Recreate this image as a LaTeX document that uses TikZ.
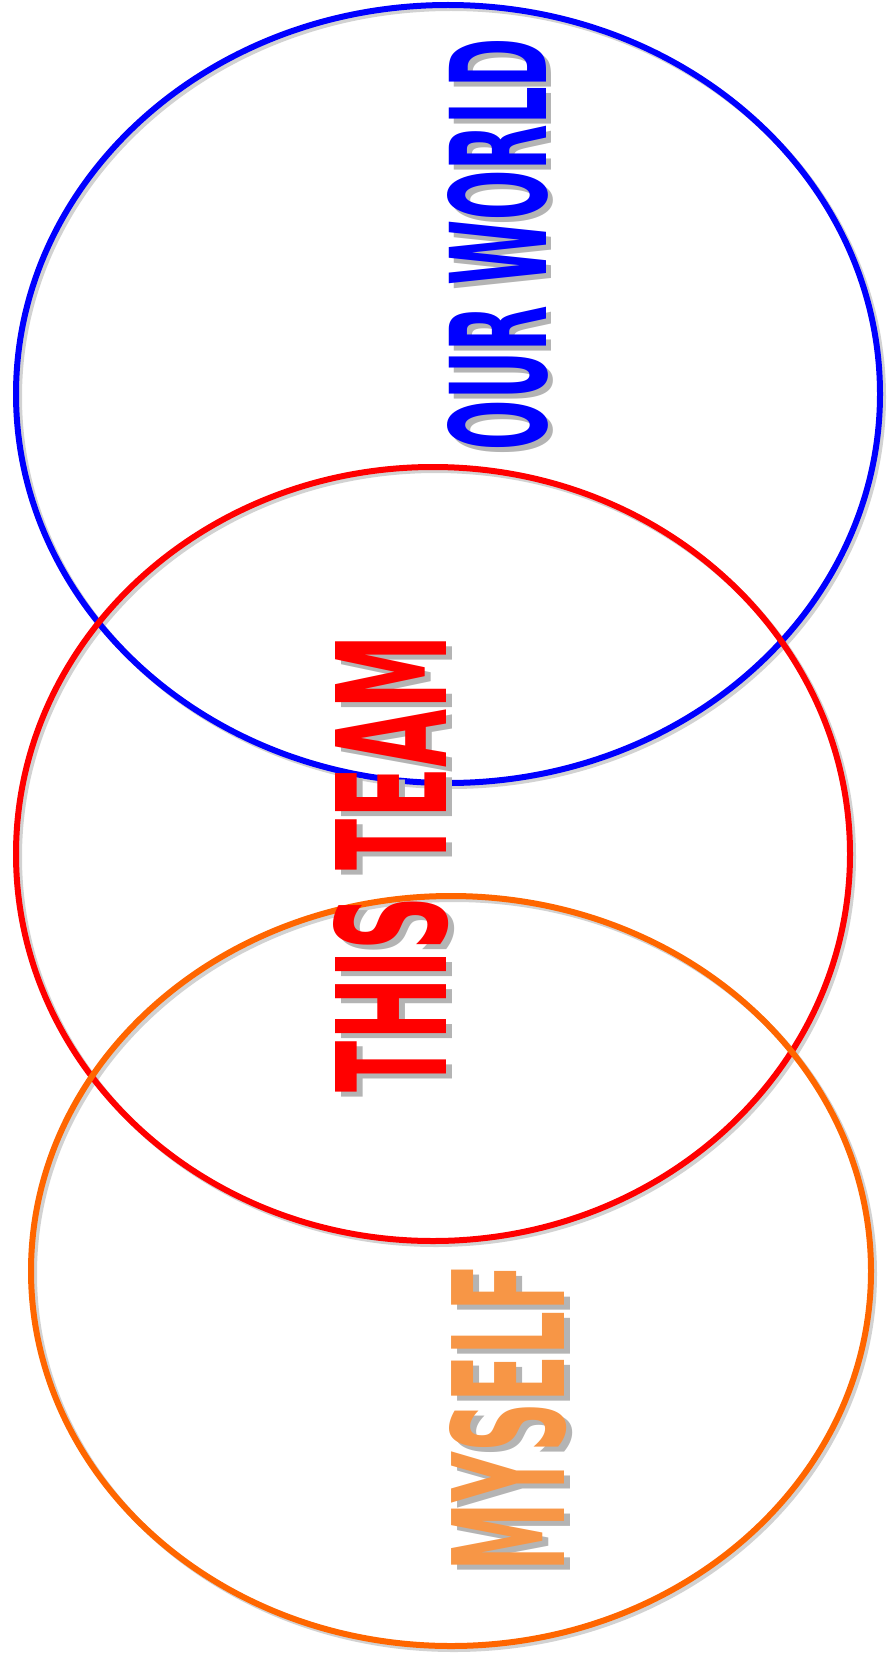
\documentclass[tikz,border=0pt]{standalone}
\usepackage{fontspec}
\setmainfont{DejaVu Sans}
\usepackage{graphicx}
\usetikzlibrary{calc}
\definecolor{worldblue}{HTML}{0000FF}
\definecolor{teamred}{HTML}{FF0000}
\definecolor{selforange}{HTML}{FF6600}
\definecolor{selftext}{HTML}{F79646}
\definecolor{shadowgrey}{HTML}{B4B4B4}
\tikzset{
  ring/.style={line width=6pt},
  ringshadow/.style={line width=6pt,draw=shadowgrey,opacity=0.6},
  % the labels run from bottom to top
  word/.style={inner sep=0,rotate=90,font=\bfseries},
  wordshadow/.style={word,text=shadowgrey},
}
\newcommand{\squeezeword}[3]{\resizebox{#1pt}{#2pt}{#3}}

\begin{document}
\begin{tikzpicture}[x=1pt,y=-1pt]
  \useasboundingbox (0,0) rectangle (892,1653);
  \coordinate (worldc) at (448,394);
  \coordinate (teamc) at (433,854);
  \coordinate (selfc) at (451,1271);
  % grey shadows of the rings
  \draw[ringshadow] ($(worldc)+(3,3)$) ellipse [x radius=432,y radius=389];
  \draw[ringshadow] ($(teamc)+(3,3)$) ellipse [x radius=417,y radius=387];
  \draw[ringshadow] ($(selfc)+(3,3)$) ellipse [x radius=420,y radius=375];
  % the rings
  \draw[ring,draw=worldblue] (worldc) ellipse [x radius=432,y radius=389];
  \draw[ring,draw=teamred] (teamc) ellipse [x radius=417,y radius=387];
  \draw[ring,draw=selforange] (selfc) ellipse [x radius=420,y radius=375];
  % labels, each with a grey copy behind it
  \node[wordshadow] (worldshadow) at (503,249) {\squeezeword{412}{99}{OUR WORLD}};
  \node[word,text=worldblue] (world) at (497.5,244) {\squeezeword{412}{99}{OUR WORLD}};
  \node[wordshadow] (teamshadow) at (397,868.5) {\squeezeword{457}{113}{THIS TEAM}};
  \node[word,text=teamred] (team) at (391.5,863.5) {\squeezeword{457}{113}{THIS TEAM}};
  \node[wordshadow] (selfshadow) at (514,1423) {\squeezeword{307}{115}{MYSELF}};
  \node[word,text=selftext] (self) at (508.5,1418) {\squeezeword{307}{115}{MYSELF}};
\end{tikzpicture}
\end{document}
